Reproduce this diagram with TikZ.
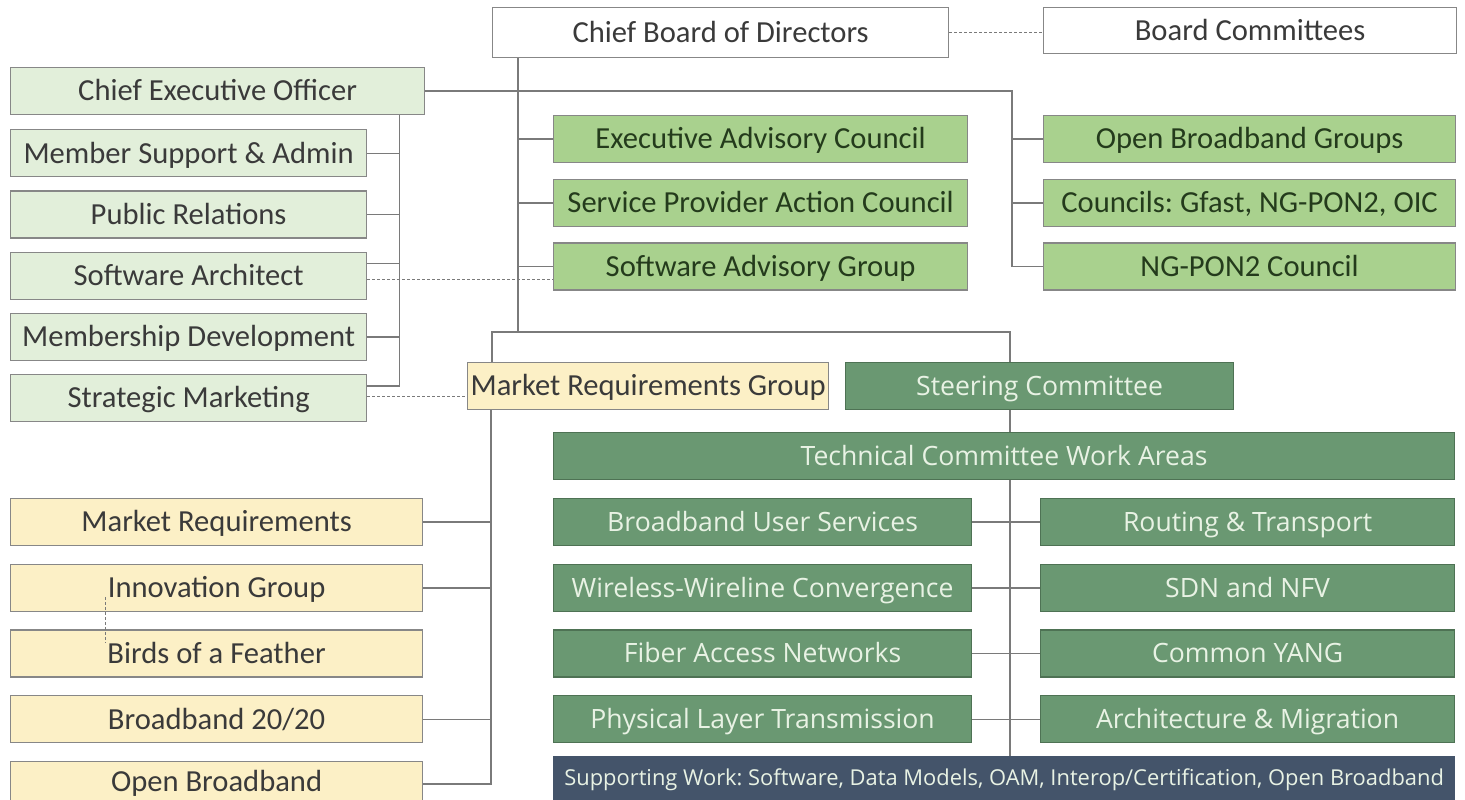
\documentclass[tikz,border=0pt]{standalone}
\usepackage{fontspec}
\setmainfont{Carlito}
\newfontfamily\opensans{Open Sans}
\usetikzlibrary{positioning}
\frenchspacing

\definecolor{boxline}{HTML}{878787}
\definecolor{conngray}{HTML}{7A7A7A}
\definecolor{txtgray}{HTML}{3A3A3A}
\definecolor{paleg}{HTML}{E2EFDA}
\definecolor{midg}{HTML}{A9D18E}
\definecolor{advtxt}{HTML}{243B1C}
\definecolor{yel}{HTML}{FCF0C6}
\definecolor{darkg}{HTML}{6A9872}
\definecolor{darkgline}{HTML}{4E7254}
\definecolor{lighttxt}{HTML}{E8F2E4}
\definecolor{slate}{HTML}{44546A}

\begin{document}
\begin{tikzpicture}[x=0.5pt,y=-0.5pt,
    box/.style={rectangle,draw=boxline,line width=0.6pt,inner sep=0pt,minimum height=23.5pt,text height=9.8pt,text depth=0pt,text=txtgray,font=\fontsize{15.3}{18}\selectfont},
    board/.style={box,fill=white},
    staff/.style={box,fill=paleg,minimum width=178pt},
    advisory/.style={box,fill=midg,text=advtxt,minimum width=207pt},
    market/.style={box,fill=yel,minimum width=206pt},
    tech/.style={box,fill=darkg,draw=darkgline,text=lighttxt,text height=9.4pt,font=\opensans\fontsize{13.3}{16}\selectfont},
    support/.style={box,fill=slate,draw=slate,text=lighttxt,text height=7.8pt,text depth=2pt,font=\opensans\fontsize{10.95}{13}\selectfont},
    conn/.style={draw=conngray,line width=0.7pt},
    dashline/.style={conn,line width=0.5pt,dash pattern=on 1.5pt off 1pt}]

    \useasboundingbox (0,0) rectangle (1465,799);

    \node[board,minimum width=228pt,minimum height=25pt,anchor=north west] (cbd) at (492,7) {Chief Board of Directors};
    \node[board,minimum width=206.5pt,minimum height=23pt,anchor=north west] (bc) at (1043,7) {Board Committees};

    \node[staff,minimum width=207pt,anchor=north west] (ceo) at (10,67) {Chief Executive Officer};
    \node[staff,below=7pt of ceo.south west,anchor=north west] (msa) {Member Support \& Admin};
    \node[staff,below=6.5pt of msa] (pr) {Public Relations};
    \node[staff,below=6.5pt of pr] (sa) {Software Architect};
    \node[staff,below=6.5pt of sa] (md) {Membership Development};
    \node[staff,below=6.5pt of md] (sm) {Strategic Marketing};

    \node[advisory,anchor=north west] (eac) at (553,115) {Executive Advisory Council};
    \node[advisory,below=7.75pt of eac] (spac) {Service Provider Action Council};
    \node[advisory,below=7.75pt of spac] (sag) {Software Advisory Group};
    \node[advisory,minimum width=206pt,anchor=north west] (obg) at (1043,115) {Open Broadband Groups};
    \node[advisory,minimum width=206pt,below=7.75pt of obg] (cncl) {Councils: Gfast, NG-PON2, OIC};
    \node[advisory,minimum width=206pt,below=7.75pt of cncl] (ngpon) {NG-PON2 Council};

    \node[market,minimum width=180.5pt,anchor=north west] (mrg) at (467,362) {Market Requirements Group};
    \node[market,anchor=north west] (mr) at (10,498) {Market Requirements};
    \node[market,below=8.75pt of mr] (ig) {Innovation Group};
    \node[market,below=8.75pt of ig] (bof) {Birds of a Feather};
    \node[market,below=8.75pt of bof] (bb) {Broadband 20/20};
    \node[market,below=8.75pt of bb,text depth=3.5pt] (ob) {Open Broadband};

    \node[tech,minimum width=194pt,anchor=north west] (sc) at (845,362) {Steering Committee};
    \node[tech,minimum width=450.5pt,anchor=north west] (tcwa) at (553,432) {Technical Committee Work Areas};
    \node[tech,minimum width=209pt,anchor=north west] (bus) at (553,498) {Broadband User Services};
    \node[tech,minimum width=209pt,below=8.75pt of bus] (wwc) {Wireless-Wireline Convergence};
    \node[tech,minimum width=209pt,below=8.75pt of wwc] (fan) {Fiber Access Networks};
    \node[tech,minimum width=209pt,below=8.75pt of fan] (plt) {Physical Layer Transmission};
    \node[tech,minimum width=207pt,anchor=north west] (rt) at (1040,498) {Routing \& Transport};
    \node[tech,minimum width=207pt,below=8.75pt of rt] (sdn) {SDN and NFV};
    \node[tech,minimum width=207pt,below=8.75pt of sdn] (yang) {Common YANG};
    \node[tech,minimum width=207pt,below=8.75pt of yang] (am) {Architecture \& Migration};
    \node[support,minimum width=450.5pt,anchor=north west] (sw) at (553,756) {Supporting Work: Software, Data Models, OAM, Interop/Certification, Open Broadband};

    % board tree
    \coordinate (bdbus) at ([xshift=13pt]cbd.south west);
    \coordinate (mrgtop) at ([xshift=12.5pt]mrg.north west);
    \coordinate (sctop) at ([xshift=82.5pt]sc.north west);
    \coordinate (rail) at ([yshift=15pt]mrgtop);
    \draw[dashline] (cbd.east) -- (cbd.east -| bc.west);
    \draw[conn] (bdbus) -- (bdbus |- rail);
    \draw[conn] (mrgtop) |- (sctop |- rail) -- (sctop);
    \foreach \n in {eac,spac,sag}
        \draw[conn] (\n.west -| bdbus) -- (\n.west);

    % ceo tree
    \coordinate (ceorail) at ([xshift=-15.5pt]obg.north west);
    \coordinate (staffbus) at ([xshift=-13pt]ceo.south east);
    \draw[conn] (ceo.east) -| (ceorail |- ngpon.west) -- (ngpon.west);
    \draw[conn] (obg.west -| ceorail) -- (obg.west);
    \draw[conn] (cncl.west -| ceorail) -- (cncl.west);
    \draw[conn] (staffbus) |- ([yshift=6pt]sm.east);
    \foreach \n in {msa,pr,md}
        \draw[conn] (\n.east) -- (\n.east -| staffbus);
    \draw[conn] ([yshift=6pt]sa.east) -- ([yshift=6pt]sa.east -| staffbus);
    \draw[dashline] ([yshift=-2pt]sa.east) -- ([yshift=-2pt]sa.east -| sag.west);
    \draw[dashline] ([yshift=1pt]sm.east) -- ([yshift=1pt]sm.east -| mrg.west);

    % market tree
    \coordinate (mktbus) at ([xshift=12pt]mrg.south west);
    \draw[conn] (mktbus) |- ([yshift=0.5pt]ob.east);
    \foreach \n in {mr,ig,bb}
        \draw[conn] (\n.east) -- (\n.east -| mktbus);
    \draw[dashline] ([xshift=-55.5pt,yshift=7.5pt]ig.south) -- ([xshift=-55.5pt,yshift=-7pt]bof.north);

    % technical tree
    \coordinate (techbus) at ([xshift=82.5pt]sc.south west);
    \draw[conn] (techbus) -- (techbus |- tcwa.north);
    \draw[conn] (tcwa.south -| techbus) -- (sw.north -| techbus);
    \draw[conn] (bus) -- (rt);
    \draw[conn] (wwc) -- (sdn);
    \draw[conn] (fan) -- (yang);
    \draw[conn] (plt) -- (am);
\end{tikzpicture}
\end{document}
